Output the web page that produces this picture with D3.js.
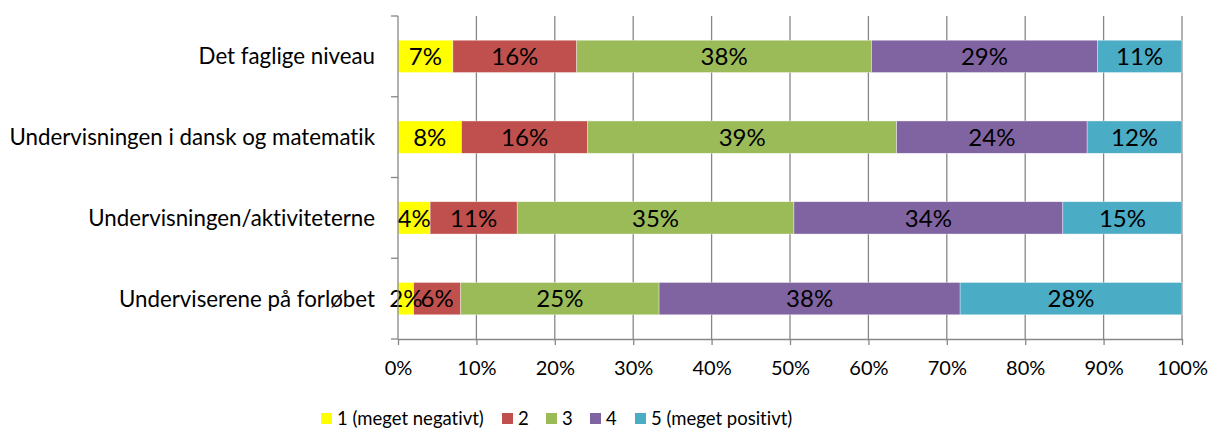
<!DOCTYPE html>
<html>
<head>
<meta charset="utf-8">
<script src="https://cdn.jsdelivr.net/npm/d3@7"></script>
<style>
  html, body { margin: 0; padding: 0; background: #fff; }
  svg { display: block; font-family: Lato, "Open Sans", sans-serif; font-variant-ligatures: none; font-feature-settings: "liga" 0, "clig" 0; }
  svg text { font-variant-ligatures: none; font-feature-settings: "liga" 0, "clig" 0; }
</style>
</head>
<body>
<svg id="chart" width="1209" height="431"></svg>
<script>
const categories = ["Det faglige niveau", "Undervisningen i dansk og matematik", "Undervisningen/aktiviteterne", "Underviserene på forløbet"];
const seriesNames = ["1 (meget negativt)", "2", "3", "4", "5 (meget positivt)"];
const seriesColors = ["#FFFF00", "#C0504D", "#9BBB59", "#8064A2", "#4BACC6"];
const s1 = [7.0, 8.1, 4.1, 2.0];
const s2 = [15.8, 16.1, 11.1, 6.0];
const s3 = [37.6, 39.4, 35.3, 25.3];
const s4 = [28.8, 24.3, 34.3, 38.4];
const s5 = [10.8, 12.1, 15.2, 28.3];
const xTicks = [0, 10, 20, 30, 40, 50, 60, 70, 80, 90, 100];

(function () {
const seriesValues = [s1, s2, s3, s4, s5];
const rows = categories.map((c, i) => {
  const r = { cat: c };
  seriesValues.forEach((s, k) => r["s" + k] = s[i]);
  return r;
});
const keys = seriesValues.map((_, k) => "s" + k);
const stacked = d3.stack().keys(keys)(rows);

const svg = d3.select("#chart");
const pL = 398, pR = 1182, pT = 16, pB = 339;
const x = d3.scaleLinear().domain([0, 100]).range([pL, pR]);
const y = d3.scaleBand().domain(categories).range([pT, pB]).paddingInner(0.6).paddingOuter(0.3);
const gridColor = "#878787";

svg.append("g").selectAll("line").data(xTicks.slice(1)).join("line")
  .attr("x1", d => x(d)).attr("x2", d => x(d))
  .attr("y1", pT).attr("y2", pB)
  .attr("stroke", gridColor).attr("stroke-width", 1.3);

const g = svg.append("g");
stacked.forEach((layer, k) => {
  g.append("g").selectAll("rect").data(layer).join("rect")
    .attr("x", d => x(d[0]))
    .attr("width", d => x(d[1]) - x(d[0]))
    .attr("y", d => y(d.data.cat))
    .attr("height", y.bandwidth())
    .attr("fill", seriesColors[k])
    .attr("stroke", "#ffffff").attr("stroke-opacity", 0.6).attr("stroke-width", 0.6);
});
stacked.forEach((layer, k) => {
  g.append("g").selectAll("text").data(layer).join("text")
    .attr("x", d => (x(d[0]) + x(d[1])) / 2)
    .attr("y", d => y(d.data.cat) + y.bandwidth() / 2)
    .attr("dy", "0.36em")
    .attr("text-anchor", "middle")
    .attr("font-size", 24)
    .attr("fill", "#000")
    .text(d => Math.round(d[1] - d[0]) + "%");
});

const xAxis = d3.axisBottom(x).tickValues(xTicks).tickFormat(d => d + "%").tickSize(6).tickSizeOuter(0);
const xa = svg.append("g").attr("transform", `translate(0,${pB})`).call(xAxis);
xa.select(".domain").attr("stroke", gridColor).attr("stroke-width", 1.3);
xa.selectAll(".tick line").attr("stroke", gridColor).attr("stroke-width", 1.3);
xa.selectAll(".tick text").attr("font-size", 20).attr("font-family", "Lato, sans-serif").attr("fill", "#000")
  .attr("y", 29).attr("dy", "0.36em");

const yEdges = d3.scaleLinear().domain([0, categories.length]).range([pT, pB]);
const ya = svg.append("g");
ya.append("line").attr("x1", pL).attr("x2", pL).attr("y1", pT).attr("y2", pB)
  .attr("stroke", gridColor).attr("stroke-width", 1.3);
ya.selectAll("line.t").data(d3.range(categories.length + 1)).join("line").attr("class", "t")
  .attr("x1", pL - 7).attr("x2", pL)
  .attr("y1", d => yEdges(d)).attr("y2", d => yEdges(d))
  .attr("stroke", gridColor).attr("stroke-width", 1.3);
ya.selectAll("text").data(categories).join("text")
  .attr("x", 375)
  .attr("y", d => y(d) + y.bandwidth() / 2)
  .attr("dy", "0.36em")
  .attr("text-anchor", "end")
  .attr("font-size", 22.3)
  .attr("fill", "#000")
  .text(d => d);

const legendX = [321, 502, 546, 590, 635];
const lg = svg.append("g");
seriesNames.forEach((n, k) => {
  lg.append("rect").attr("x", legendX[k]).attr("y", 413).attr("width", 11).attr("height", 11).attr("fill", seriesColors[k]);
  lg.append("text").attr("x", legendX[k] + 16).attr("y", 418.5).attr("dy", "0.36em")
    .attr("font-size", 18.5).attr("fill", "#000").text(n);
});
})();
</script>
</body>
</html>
